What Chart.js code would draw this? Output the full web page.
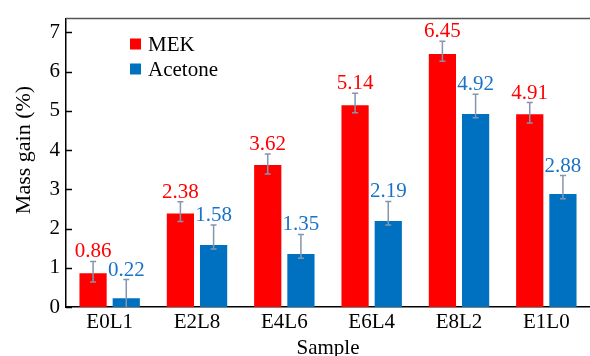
<!DOCTYPE html>
<html>
<head>
<meta charset="utf-8">
<script src="https://cdn.jsdelivr.net/npm/chart.js@4"></script>
<style>
  body { margin: 0; background: #fff; }
  canvas { display: block; }
</style>
</head>
<body>
<canvas id="massChart" width="590" height="356"></canvas>
<script>
// --- data ---
const categories = ['E0L1', 'E2L8', 'E4L6', 'E6L4', 'E8L2', 'E1L0'];
const mekValues = [0.86, 2.38, 3.62, 5.14, 6.45, 4.91];
const acetoneValues = [0.22, 1.58, 1.35, 2.19, 4.92, 2.88];
// error bars (upper / lower extent)
const mekErrUp = [0.30, 0.30, 0.28, 0.31, 0.32, 0.30];
const mekErrDown = [0.22, 0.20, 0.23, 0.19, 0.19, 0.22];
const acetoneErrUp = [0.48, 0.51, 0.50, 0.50, 0.50, 0.47];
const acetoneErrDown = [0.22, 0.10, 0.11, 0.10, 0.10, 0.12];
const yTicks = [0, 1, 2, 3, 4, 5, 6, 7];

const FONT = '"Liberation Serif", "Times New Roman", serif';
const RED = '#ff0000';
const BLUE = '#0070c0';
const BLUE_TEXT = '#1a72c8';
const ERR = '#8595ad';

const errors = [
    { up: mekErrUp, down: mekErrDown },
    { up: acetoneErrUp, down: acetoneErrDown }
];
const labelColors = [RED, BLUE_TEXT];

const extras = {
    id: 'extras',
    afterDatasetsDraw(chart) {
        const { ctx, chartArea: area, scales: { y } } = chart;
        ctx.save();

        // top frame line
        ctx.strokeStyle = '#555';
        ctx.lineWidth = 1.5;
        ctx.beginPath();
        ctx.moveTo(area.left, area.top);
        ctx.lineTo(area.right, area.top);
        ctx.stroke();

        // inward y tick marks
        ctx.strokeStyle = '#000';
        yTicks.forEach(v => {
            const py = Math.round(y.getPixelForValue(v)) + 0.5;
            ctx.beginPath();
            ctx.moveTo(area.left, py);
            ctx.lineTo(area.left + 6, py);
            ctx.stroke();
        });

        // error bars + value labels
        chart.data.datasets.forEach((ds, di) => {
            const meta = chart.getDatasetMeta(di);
            meta.data.forEach((bar, i) => {
                const v = ds.data[i];
                const top = y.getPixelForValue(v + errors[di].up[i]);
                const lowVal = v - errors[di].down[i];
                const bot = y.getPixelForValue(Math.max(lowVal, 0));
                ctx.strokeStyle = ERR;
                ctx.lineWidth = 1.5;
                ctx.beginPath();
                ctx.moveTo(bar.x, top);
                ctx.lineTo(bar.x, bot);
                ctx.moveTo(bar.x - 3, top);
                ctx.lineTo(bar.x + 3, top);
                if (lowVal > 0) {
                    ctx.moveTo(bar.x - 3, bot);
                    ctx.lineTo(bar.x + 3, bot);
                }
                ctx.stroke();

                ctx.fillStyle = labelColors[di];
                ctx.font = '21px ' + FONT;
                ctx.textAlign = 'center';
                ctx.textBaseline = 'alphabetic';
                ctx.fillText(v.toFixed(2), bar.x, top - 4);
            });
        });

        // legend inside plot
        ctx.font = '21px ' + FONT;
        ctx.textAlign = 'left';
        ctx.textBaseline = 'middle';
        chart.data.datasets.forEach((ds, di) => {
            const cy = 44 + di * 25;
            ctx.fillStyle = ds.backgroundColor;
            ctx.fillRect(130, cy - 5.5, 11, 11);
            ctx.fillStyle = '#000';
            ctx.fillText(ds.label, 148, cy + 1);
        });

        // axis titles
        ctx.fillStyle = '#000';
        ctx.textAlign = 'center';
        ctx.textBaseline = 'alphabetic';
        ctx.fillText('Sample', (area.left + area.right) / 2, 354);
        ctx.font = '22px ' + FONT;
        ctx.translate(30, 150);
        ctx.rotate(-Math.PI / 2);
        ctx.fillText('Mass gain (%)', 0, 0);
        ctx.restore();
    }
};

new Chart(document.getElementById('massChart'), {
    type: 'bar',
    data: {
        labels: categories,
        datasets: [
            {
                label: 'MEK',
                data: mekValues,
                backgroundColor: RED,
                categoryPercentage: 0.76,
                barPercentage: 0.82
            },
            {
                label: 'Acetone',
                data: acetoneValues,
                backgroundColor: BLUE,
                categoryPercentage: 0.76,
                barPercentage: 0.82
            }
        ]
    },
    options: {
        responsive: false,
        animation: false,
        devicePixelRatio: 1,
        layout: { padding: { top: 15, right: 0, left: 0, bottom: 0 } },
        plugins: {
            legend: { display: false },
            tooltip: { enabled: false }
        },
        scales: {
            x: {
                grid: { display: false, drawTicks: false },
                border: { color: '#000', width: 1.5 },
                ticks: { color: '#000', font: { family: FONT, size: 21 }, padding: 3 },
                afterFit(scale) { scale.height = 49; }
            },
            y: {
                min: 0,
                max: 7.35,
                grid: { display: false, drawTicks: false },
                border: { color: '#000', width: 1.5 },
                ticks: { color: '#000', font: { family: FONT, size: 21 }, padding: 6 },
                afterBuildTicks(scale) { scale.ticks = yTicks.map(v => ({ value: v })); },
                afterFit(scale) { scale.width = 66; }
            }
        }
    },
    plugins: [extras]
});
</script>
</body>
</html>
